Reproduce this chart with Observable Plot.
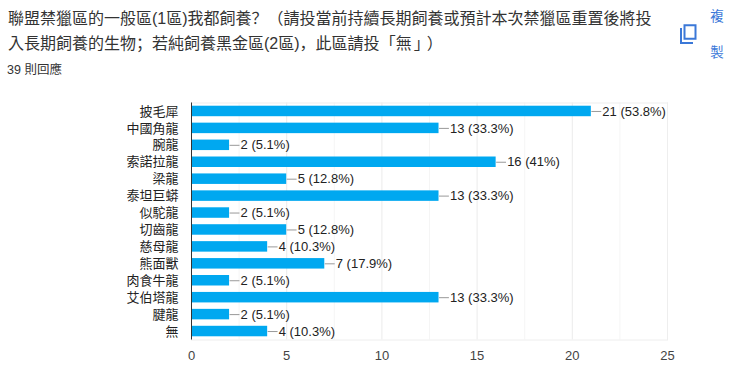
<!DOCTYPE html>
<html>
<head>
<meta charset="utf-8">
<script src="https://cdn.jsdelivr.net/npm/d3@7"></script>
<script src="https://cdn.jsdelivr.net/npm/@observablehq/plot@0.6"></script>
<style>
html,body{margin:0;padding:0;background:#fff;width:735px;height:382px;overflow:hidden}
body{position:relative;font-family:"Liberation Sans","Noto Sans CJK TC",sans-serif}
#title{position:absolute;left:8px;top:6px;width:660px;font-size:16px;line-height:25px;color:#333;white-space:nowrap;word-spacing:-8px}
#title .p{font-family:"Noto Sans CJK SC";line-height:1}
#count{position:absolute;left:7px;top:62px;font-size:12.500px;line-height:16px;color:#333}
#copy{position:absolute;left:710px;top:-1px;width:14px;font-size:13.500px;line-height:36px;color:#3b78d8;text-align:center}
#icon{position:absolute;left:680px;top:24px}
#chart{position:absolute;left:0;top:95px}
#chart svg{display:block}
</style>
</head>
<body>
<div id="title">聯盟禁獵區的一般區(1區)我都飼養<span class="p">？</span> <span class="p">（</span>請投當前持續長期飼養或預計本次禁獵區重置後將投<br>入長期飼養的生物<span class="p">；</span>若純飼養黑金區(2區)<span class="p">，</span>此區請投<span class="p">「</span>無<span class="p" style="margin-left:2px">」</span><span class="p" style="margin-left:5px">）</span></div>
<div id="count">39 則回應</div>
<svg id="icon" width="17" height="20" viewBox="0 0 17 20"><path d="M1 4v15h12M4.500 1.200h11v13.600h-11z" fill="none" stroke="#3b78d8" stroke-width="2"/></svg>
<div id="copy">複<br>製</div>
<div id="chart"></div>
<script>
const categories = ["披毛犀","中國角龍","腕龍","索諾拉龍","梁龍","泰坦巨蟒","似駝龍","切齒龍","慈母龍","熊面獸","肉食牛龍","艾伯塔龍","腱龍","無"];
const counts = [21,13,2,16,5,13,2,5,4,7,2,13,2,4];
const percents = ["53.8%","33.3%","5.1%","41%","12.8%","33.3%","5.1%","12.8%","10.3%","17.9%","5.1%","33.3%","5.1%","10.3%"];
const xTicks = [0,5,10,15,20,25];
const minorTicks = [2.5,7.5,12.5,17.5,22.5];
const connector = 0.52;
const rows = categories.map((c,i)=>({c,n:counts[i],p:percents[i]}));
const font = '"Liberation Sans","Noto Sans CJK TC",sans-serif';
const plot = Plot.plot({
  width:735, height:287,
  marginLeft:191, marginRight:68, marginTop:7.5, marginBottom:42.5,
  style:{fontFamily:font,fontSize:"12px",background:"transparent"},
  x:{domain:[0,25],range:[191,667],ticks:xTicks,label:null},
  y:{domain:categories,paddingInner:0.38,paddingOuter:0.19,round:false,label:null},
  marks:[
    Plot.ruleX(minorTicks,{stroke:"#f5f5f5",strokeWidth:1}),
    Plot.ruleX(xTicks.slice(1),{stroke:"#ebebeb",strokeWidth:1}),
    Plot.frame({stroke:"#eeeeee"}),
    Plot.barX(rows,{y:"c",x:"n",fill:"#00a8f0"}),
    Plot.link(rows,{y1:"c",y2:"c",x1:"n",x2:d=>d.n+connector,stroke:"#999",strokeWidth:1}),
    Plot.text(rows,{y:"c",x:"n",dx:11,textAnchor:"start",text:d=>`${d.n} (${d.p})`,fill:"#222",fontSize:13}),
    Plot.ruleX([0],{stroke:"#333",strokeWidth:1}),
    Plot.axisY({tickSize:0,tickPadding:13,fontSize:13,fill:"#222",label:null,marginLeft:191}),
    Plot.axisX({ticks:xTicks,tickSize:0,tickPadding:11,fontSize:13,fill:"#444",label:null,tickFormat:d=>d})
  ]
});
document.getElementById("chart").appendChild(plot);
</script>
</body>
</html>
